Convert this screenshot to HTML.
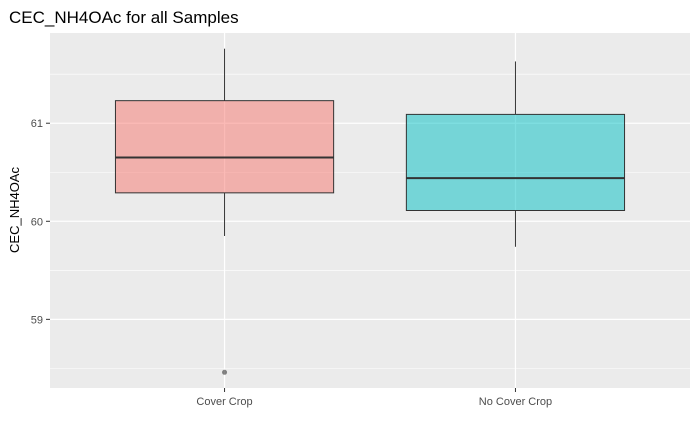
<!DOCTYPE html>
<html><head><meta charset="utf-8"><style>
body{margin:0;background:#fff;font-family:"Liberation Sans",sans-serif;}
</style></head><body>
<svg id="chart" width="700" height="432" xmlns="http://www.w3.org/2000/svg">
<text x="9" y="23" font-size="17" fill="#000">CEC_NH4OAc for all Samples</text>
<text transform="translate(19,210) rotate(-90)" text-anchor="middle" font-size="13" fill="#000">CEC_NH4OAc</text>
<g id="plot"></g>
</svg>
<script>
const categories = ["Cover Crop", "No Cover Crop"];
const whiskerHigh = [61.76, 61.63];
const q3 = [61.23, 61.09];
const median = [60.65, 60.44];
const q1 = [60.29, 60.11];
const whiskerLow = [59.85, 59.74];
const outliers = [[58.46], []];
const yTicks = [59, 60, 61];
const fills = ["#F8766D", "#00BFC4"];

const L = 50, R = 690, T = 33, B = 388, yMin = 58.30, yMax = 61.92;
const y = v => B - (v - yMin) / (yMax - yMin) * (B - T);
const unit = (R - L) / (categories.length - 1 + 1.2);
const x = i => L + unit * (i + 0.6);
const NS = "http://www.w3.org/2000/svg";
const g = document.getElementById("plot");
function mk(tag, attrs, parent) {
  const e = document.createElementNS(NS, tag);
  for (const k in attrs) e.setAttribute(k, attrs[k]);
  (parent || g).appendChild(e);
  return e;
}
const bg = mk("rect", {x: L, y: T, width: R - L, height: B - T, fill: "#EBEBEB"});


for (let i = 0; i < yTicks.length + 1; i++) {
  const v = yTicks[0] - 0.5 + i;
  if (v < yMin || v > yMax) continue;
  const l = mk("line", {x1: L, x2: R, y1: y(v), y2: y(v), stroke: "#fff", "stroke-width": 0.6});
  
  
}
yTicks.forEach(t => {
  const l = mk("line", {x1: L, x2: R, y1: y(t), y2: y(t), stroke: "#fff", "stroke-width": 1.2});
  
  
  const tk = mk("line", {x1: L - 4, x2: L, y1: y(t), y2: y(t), stroke: "#333", "stroke-width": 1});
  
  
  const tx = mk("text", {x: L - 7, y: y(t) + 4, "text-anchor": "end", "font-size": 11, fill: "#4D4D4D"});
  tx.textContent = t;
  
  
});
categories.forEach((c, i) => {
  const cx = x(i);
  const vl = mk("line", {x1: cx, x2: cx, y1: T, y2: B, stroke: "#fff", "stroke-width": 1.2});
  
  
  const tk = mk("line", {x1: cx, x2: cx, y1: B, y2: B + 4, stroke: "#333"});
  
  
  const tx = mk("text", {x: cx, y: B + 17, "text-anchor": "middle", "font-size": 11, fill: "#4D4D4D"});
  tx.textContent = c;
  
  
  const bw = unit * 0.75;
  const w1 = mk("line", {x1: cx, x2: cx, y1: y(whiskerHigh[i]), y2: y(q3[i]), stroke: "#333", "stroke-width": 1});
  
  
  const w2 = mk("line", {x1: cx, x2: cx, y1: y(q1[i]), y2: y(whiskerLow[i]), stroke: "#333", "stroke-width": 1});
  
  
  const box = mk("rect", {x: cx - bw / 2, y: y(q3[i]), width: bw, height: y(q1[i]) - y(q3[i]), fill: fills[i], "fill-opacity": 0.5, stroke: "#333", "stroke-width": 1});
  
  
  const m = mk("line", {x1: cx - bw / 2, x2: cx + bw / 2, y1: y(median[i]), y2: y(median[i]), stroke: "#333", "stroke-width": 2});
  
  
  outliers[i].forEach(o => {
    const p = mk("circle", {cx: cx, cy: y(o), r: 2.5, fill: "#333", "fill-opacity": 0.6});
    
    
  });
});
</script>
</body></html>
